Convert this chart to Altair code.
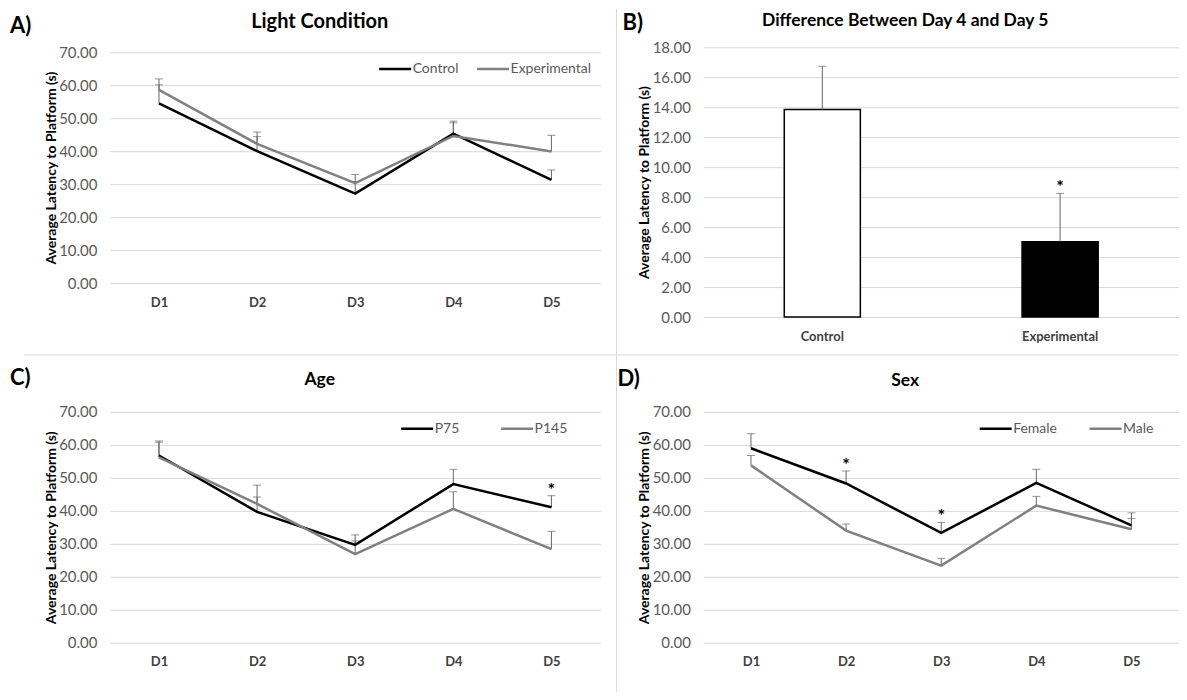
import altair as alt
import pandas as pd

# ---------------- data ----------------
days = ["D1", "D2", "D3", "D4", "D5"]
y_ticks = [0, 10, 20, 30, 40, 50, 60, 70]
b_ticks = [0, 2, 4, 6, 8, 10, 12, 14, 16, 18]

# Panel A - Light Condition
a_groups = ["Control", "Experimental"]
a_control = [54.5, 40.0, 27.1, 45.3, 31.3]
a_control_upper = [60.1, 44.4, 30.8, 49.1, 34.3]
a_exp = [58.6, 42.2, 30.3, 44.6, 39.9]
a_exp_upper = [61.9, 45.8, 32.9, 48.6, 44.8]
a_sig = []

# Panel B - Difference Between Day 4 and Day 5
b_groups = ["Control", "Experimental"]
b_means = [13.85, 5.03]
b_upper = [16.73, 8.25]
b_sig = ["Experimental"]

# Panel C - Age
c_groups = ["P75", "P145"]
c_p75 = [56.8, 39.7, 29.7, 48.1, 41.1]
c_p75_upper = [61.2, 44.2, 32.7, 52.6, 44.6]
c_p145 = [56.2, 42.1, 26.9, 40.6, 28.4]
c_p145_upper = [60.8, 47.8, 30.9, 45.8, 33.8]
c_sig = [("D5", "P75")]

# Panel D - Sex
d_groups = ["Female", "Male"]
d_female = [59.0, 48.3, 33.3, 48.5, 35.6]
d_female_upper = [63.4, 52.1, 36.5, 52.6, 39.4]
d_male = [53.8, 34.0, 23.4, 41.6, 34.4]
d_male_upper = [56.8, 36.0, 25.6, 44.4, 37.7]
d_sig = [("D2", "Female"), ("D3", "Female")]

# ---------------- styles ----------------
FONT = "Lato"
GRID = "#d9d9d9"
LABEL_GRAY = "#595959"
DARK = "#404040"
ERR = "#666666"
SERIES_COLORS = ["#000000", "#808080"]
DIVIDER = "#d9d9d9"
YTITLE = "Average Latency to Platform (s)"


def long_df(groups, s1, s1u, s2, s2u):
    rows = []
    for g, vals, ups in [(groups[0], s1, s1u), (groups[1], s2, s2u)]:
        for d, v, u in zip(days, vals, ups):
            rows.append({"day": d, "group": g, "mean": v, "upper": u})
    return pd.DataFrame(rows)


def y_axis(values, title_y):
    return alt.Axis(
        values=values, format=".2f", title=YTITLE, titleX=-58.5, titleY=title_y,
        titleAngle=-90, titleAlign="center", titleBaseline="middle",
        titleFont=FONT, titleFontSize=14, titleFontWeight="bold", titleColor="#000000",
        labelFont=FONT, labelFontSize=15, labelColor=LABEL_GRAY, labelPadding=13,
        ticks=False, domain=False, grid=True, gridColor=GRID, gridWidth=1,
        labelOverlap=False,
    )


def x_axis():
    return alt.Axis(
        title=None, labelAngle=0, labelFont=FONT, labelFontSize=13,
        labelFontWeight="bold", labelColor=DARK, labelPadding=13,
        ticks=False, domain=False, grid=False,
    )


def text_layer(txt, x, y, size=22, align="left"):
    return alt.Chart(alt.Data(values=[{"k": 1}])).mark_text(
        text=txt, font=FONT, fontSize=size, fontWeight="bold", color="#000000",
        align=align, baseline="alphabetic",
    ).encode(x=alt.value(x), y=alt.value(y))


def rule_layer(x, x2, y, y2):
    return alt.Chart(alt.Data(values=[{"k": 1}])).mark_rule(
        color=DIVIDER, strokeWidth=1
    ).encode(x=alt.value(x), x2=alt.value(x2), y=alt.value(y), y2=alt.value(y2))


def line_panel(df, groups, sig, title, tsize, tx, ty, label, lx, ly,
               width, height, ydom, title_y, legx, legy, colpad, extras):
    xenc = alt.X("day:N", sort=days,
                 scale=alt.Scale(type="point", padding=0.5, domain=days),
                 axis=x_axis())
    yscale = alt.Scale(domain=ydom, nice=False, zero=True)
    yax = y_axis(y_ticks, title_y)
    y_mean = alt.Y("mean:Q", scale=yscale, axis=yax)
    y_upper = alt.Y("upper:Q", scale=yscale, axis=yax)
    base = alt.Chart(df)
    err_rule = base.mark_rule(color=ERR, strokeWidth=1).encode(
        x=xenc, y=y_mean, y2="upper:Q")
    err_cap = base.mark_tick(color=ERR, size=8, thickness=1, orient="horizontal").encode(
        x=xenc, y=y_upper)
    lines = base.mark_line(strokeWidth=2.5).encode(
        x=xenc, y=y_mean,
        color=alt.Color("group:N", sort=groups,
                        scale=alt.Scale(domain=groups, range=SERIES_COLORS),
                        legend=alt.Legend(
                            title=None, orient="none", legendX=legx, legendY=legy,
                            direction="horizontal", symbolType="stroke",
                            symbolSize=1024, symbolStrokeWidth=2.5,
                            labelFont=FONT, labelFontSize=14, labelColor=LABEL_GRAY,
                            labelOffset=0, columnPadding=colpad, padding=0)),
    )
    layers = [err_rule, err_cap, lines]
    if sig:
        sig_rows = [r for r in df.to_dict("records") if (r["day"], r["group"]) in sig]
        stars = alt.Chart(pd.DataFrame(sig_rows)).mark_text(
            text="*", font=FONT, fontSize=18, fontWeight="bold", color="#000000",
            baseline="alphabetic", dy=0,
        ).encode(x=xenc, y=y_upper)
        layers.append(stars)
    layers.append(text_layer(title, tx, ty, size=tsize, align="center"))
    layers.append(text_layer(label, lx, ly))
    layers.extend(extras)
    return alt.layer(*layers).properties(width=width, height=height)


# ---------------- panels ----------------
dfA = long_df(a_groups, a_control, a_control_upper, a_exp, a_exp_upper)
dfC = long_df(c_groups, c_p75, c_p75_upper, c_p145, c_p145_upper)
dfD = long_df(d_groups, d_female, d_female_upper, d_male, d_male_upper)

chartA = line_panel(
    dfA, a_groups, a_sig, "Light Condition", 20, 210, -19, "A)", -100, -14,
    491, 236, [0, 71.5], 120.5, 268, 4, 13,
    [rule_layer(-86, 1069, 308, 308)],
)

chartC = line_panel(
    dfC, c_groups, c_sig, "Age", 17.5, 210, -27, "C)", -100, -27,
    491, 231, [0, 70], 115.5, 290, -1, 36, [],
)

chartD = line_panel(
    dfD, d_groups, d_sig, "Sex", 17.5, 202, -25.5, "D)", -86, -26,
    476, 231, [0, 70], 115.5, 275, -1, 27,
    [rule_layer(-87, -87, -57, 280)],
)

# Panel B bar chart
dfB = pd.DataFrame({"group": b_groups, "mean": b_means, "upper": b_upper})
b_xscale = alt.Scale(type="band", paddingInner=0.68, paddingOuter=0.34)
xB = alt.X("group:N", sort=b_groups, scale=b_xscale, axis=x_axis(), bandPosition=0.5)
xB_bar = alt.X("group:N", sort=b_groups, scale=b_xscale, axis=x_axis())
yB = alt.Scale(domain=[0, 18], nice=False, zero=True)
yBax = y_axis(b_ticks, 135)
yB_mean = alt.Y("mean:Q", scale=yB, axis=yBax)
yB_upper = alt.Y("upper:Q", scale=yB, axis=yBax)
baseB = alt.Chart(dfB)
bars = baseB.mark_bar(stroke="#000000", strokeWidth=1.5).encode(
    x=xB_bar, y=yB_mean,
    fill=alt.Fill("group:N", sort=b_groups,
                  scale=alt.Scale(domain=b_groups, range=["#ffffff", "#000000"]),
                  legend=None),
)
b_rule = baseB.mark_rule(color=ERR, strokeWidth=1).encode(x=xB, y=yB_mean, y2="upper:Q")
b_cap = baseB.mark_tick(color=ERR, size=8, thickness=1, orient="horizontal").encode(
    x=xB, y=yB_upper)
b_star = alt.Chart(dfB[dfB["group"].isin(b_sig)]).mark_text(
    text="*", font=FONT, fontSize=18, fontWeight="bold", color="#000000",
    baseline="alphabetic", dy=0,
).encode(x=xB, y=yB_upper)

chartB = alt.layer(
    bars, b_rule, b_cap, b_star,
    text_layer("Difference Between Day 4 and Day 5", 202, -21.5, size=17.5, align="center"),
    text_layer("B)", -81, -17),
    rule_layer(-87, -87, -38.5, 308),
).properties(width=476, height=270)

chart = alt.concat(
    chartA, chartB, chartC, chartD, columns=2,
    spacing={"row": 95, "column": 103}, bounds="flush",
).resolve_scale(
    x="independent", y="independent", color="independent", fill="independent"
).properties(
    padding={"left": 2, "top": 0, "right": 0, "bottom": 0}
).configure_view(stroke=None)

chart.save("out.html", embed_options={"renderer": "svg", "actions": False})
